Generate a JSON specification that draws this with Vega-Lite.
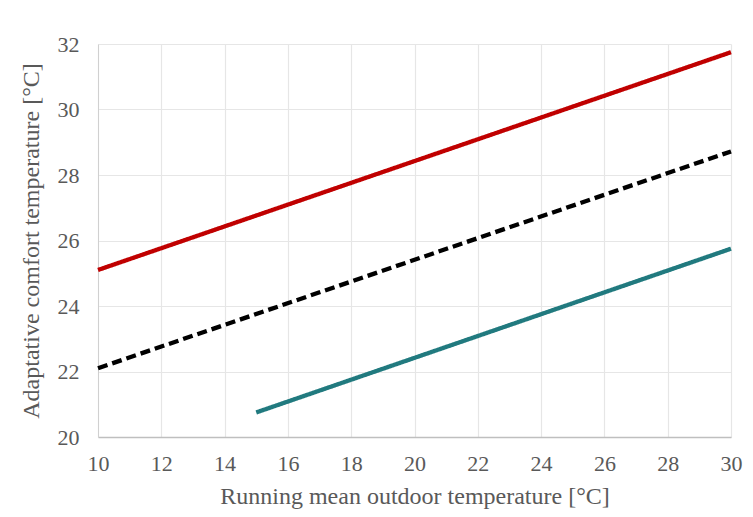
{
  "$schema": "https://vega.github.io/schema/vega-lite/v6.json",
  "width": 633,
  "height": 393,
  "autosize": {"type": "none"},
  "padding": {"left": 98, "top": 44, "right": 22, "bottom": 80},
  "background": "white",
  "config": {
    "view": {"stroke": null},
    "font": "Liberation Serif",
    "axis": {
      "labelFont": "Liberation Serif",
      "titleFont": "Liberation Serif",
      "labelColor": "#595959",
      "titleColor": "#595959",
      "labelFontSize": 22,
      "titleFontSize": 24,
      "titleFontWeight": "normal",
      "gridColor": "#E6E6E6",
      "gridWidth": 1.2,
      "ticks": false
    }
  },
  "data": {
    "values": [
      {"series": "upper", "t": 10, "tc": 25.1},
      {"series": "upper", "t": 30, "tc": 31.75},
      {"series": "neutral", "t": 10, "tc": 22.1},
      {"series": "neutral", "t": 30, "tc": 28.72},
      {"series": "lower", "t": 15, "tc": 20.75},
      {"series": "lower", "t": 30, "tc": 25.75}
    ]
  },
  "mark": {"type": "line", "strokeWidth": 4.3, "strokeCap": "butt"},
  "encoding": {
    "x": {
      "field": "t", "type": "quantitative",
      "scale": {"domain": [10, 30], "nice": false, "zero": false},
      "axis": {
        "title": "Running mean outdoor temperature [°C]",
        "values": [10, 12, 14, 16, 18, 20, 22, 24, 26, 28, 30],
        "labelPadding": 16,
        "titlePadding": 10,
        "domainColor": "#BFBFBF",
        "domainWidth": 1.5,
        "labelFlush": false
      }
    },
    "y": {
      "field": "tc", "type": "quantitative",
      "scale": {"domain": [20, 32], "nice": false, "zero": false},
      "axis": {
        "title": "Adaptative comfort temperature [°C]",
        "values": [20, 22, 24, 26, 28, 30, 32],
        "labelPadding": 19,
        "titlePadding": 14,
        "domainColor": "#D0D0D0",
        "domainWidth": 1,
        "labelFlush": false
      }
    },
    "color": {
      "field": "series", "type": "nominal",
      "scale": {"domain": ["upper", "neutral", "lower"], "range": ["#C00000", "#000000", "#217A7F"]},
      "legend": null
    },
    "strokeDash": {
      "field": "series", "type": "nominal",
      "scale": {"domain": ["upper", "neutral", "lower"], "range": [[1, 0], [10, 5], [1, 0]]},
      "legend": null
    }
  }
}
